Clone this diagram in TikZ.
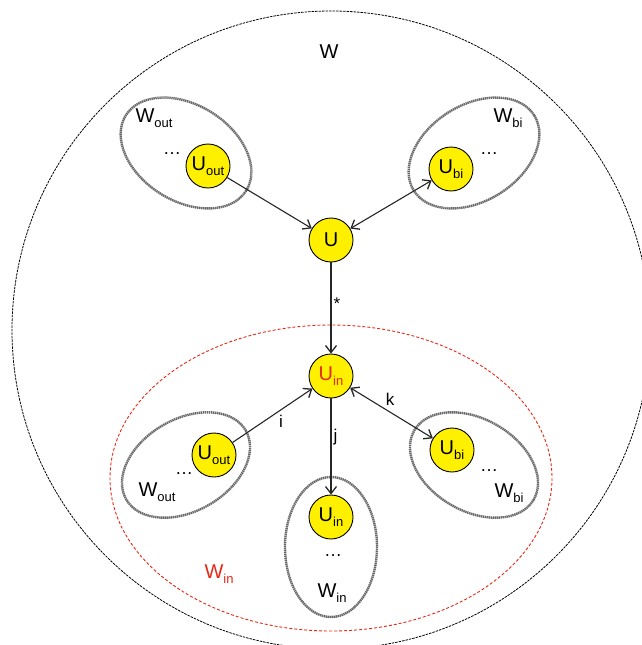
\documentclass[tikz,border=0pt]{standalone}
\usepackage{fontspec}
\setmainfont{Liberation Sans}
\usetikzlibrary{arrows.meta}
\definecolor{nodeyellow}{RGB}{255,240,0}
\definecolor{setgray}{RGB}{105,105,105}
\definecolor{setred}{RGB}{230,40,20}
\newcommand\mysub[1]{\raisebox{-0.45ex}{\fontsize{13}{13}\selectfont #1}}
\tikzset{
  unode/.style={circle,draw=black,line width=0.9pt,fill=nodeyellow,minimum size=44pt,inner sep=0pt,font=\fontsize{20}{20}\selectfont},
  setell/.style={draw=setgray,line width=2.4pt,dash pattern=on 1.4pt off 0.6pt},
  lbl/.style={font=\fontsize{20}{20}\selectfont,inner sep=1pt},
  elbl/.style={font=\fontsize{17}{17}\selectfont,inner sep=2pt},
  dots/.style={font=\fontsize{18}{18}\selectfont,inner sep=0pt},
  conn/.style={draw=black!85,line width=1.1pt,-{Straight Barb[length=7pt,width=11pt,line width=1.3pt]}},
  bconn/.style={draw=black!85,line width=1.1pt,{Straight Barb[length=7pt,width=11pt,line width=1.3pt]}-{Straight Barb[length=7pt,width=11pt,line width=1.3pt]}}
}
\begin{document}
\begin{tikzpicture}[x=1pt,y=-1pt]
\useasboundingbox (0,0) rectangle (642,645);
% outer set W
\draw[black,line width=0.8pt,dash pattern=on 2.5pt off 1pt] (331,330) circle (319);
\node[lbl] (W) at (329,52) {W};
% red set W_in
\draw[setred,line width=0.9pt,dash pattern=on 3pt off 2pt] (331,478) ellipse (221 and 153);
\node[lbl,text=setred] (Win) at (219,574) {W\mysub{in}};
% upper sets
\draw[setell,rotate around={-32:(186,153)}] (186,153) ellipse (71 and 48);
\draw[setell,rotate around={32:(474,153)}] (474,153) ellipse (71 and 48);
\node[lbl] (Wout1) at (154,118) {W\mysub{out}};
\node[dots] (d1) at (172,154) {\dots};
\node[lbl] (Wbi1) at (508,118) {W\mysub{bi}};
\node[dots] (d2) at (489,154) {\dots};
% lower sets
\draw[setell,rotate around={30:(186,465)}] (186,465) ellipse (69 and 46);
\draw[setell,rotate around={-30:(474,465)}] (474,465) ellipse (69 and 46);
\draw[setell] (331,547) ellipse (46 and 70);
\node[lbl] (Wout2) at (157,492) {W\mysub{out}};
\node[dots] (d3) at (184,474) {\dots};
\node[lbl] (Wbi2) at (509,493) {W\mysub{bi}};
\node[dots] (d4) at (489,471) {\dots};
\node[lbl] (Win2) at (332,593) {W\mysub{in}};
\node[dots] (d5) at (333,556) {\dots};
% nodes
\node[unode] (Uout1) at (208,166) {U\mysub{out}};
\node[unode] (Ubi1) at (451,169) {U\mysub{bi}};
\node[unode] (U) at (331,240) {U};
\node[unode] (Uin) at (331,376) {\textcolor{setred}{U\mysub{in}}};
\node[unode] (Uout2) at (214,455) {U\mysub{out}};
\node[unode] (Ubi2) at (452,450) {U\mysub{bi}};
\node[unode] (Uin2) at (331,517) {U\mysub{in}};
% connectors
\draw[conn] (Uout1) -- (U);
\draw[bconn] (Ubi1) -- (U);
\draw[conn] (U) -- node[elbl,right,pos=0.45] {*} (Uin);
\draw[conn] (Uout2) -- node[elbl,below right,pos=0.55] {i} (Uin);
\draw[conn] (Uin) -- node[elbl,right,pos=0.4] {j} (Uin2);
\draw[bconn] (Uin) -- node[elbl,above right,pos=0.4] {k} (Ubi2);
\end{tikzpicture}
\end{document}
